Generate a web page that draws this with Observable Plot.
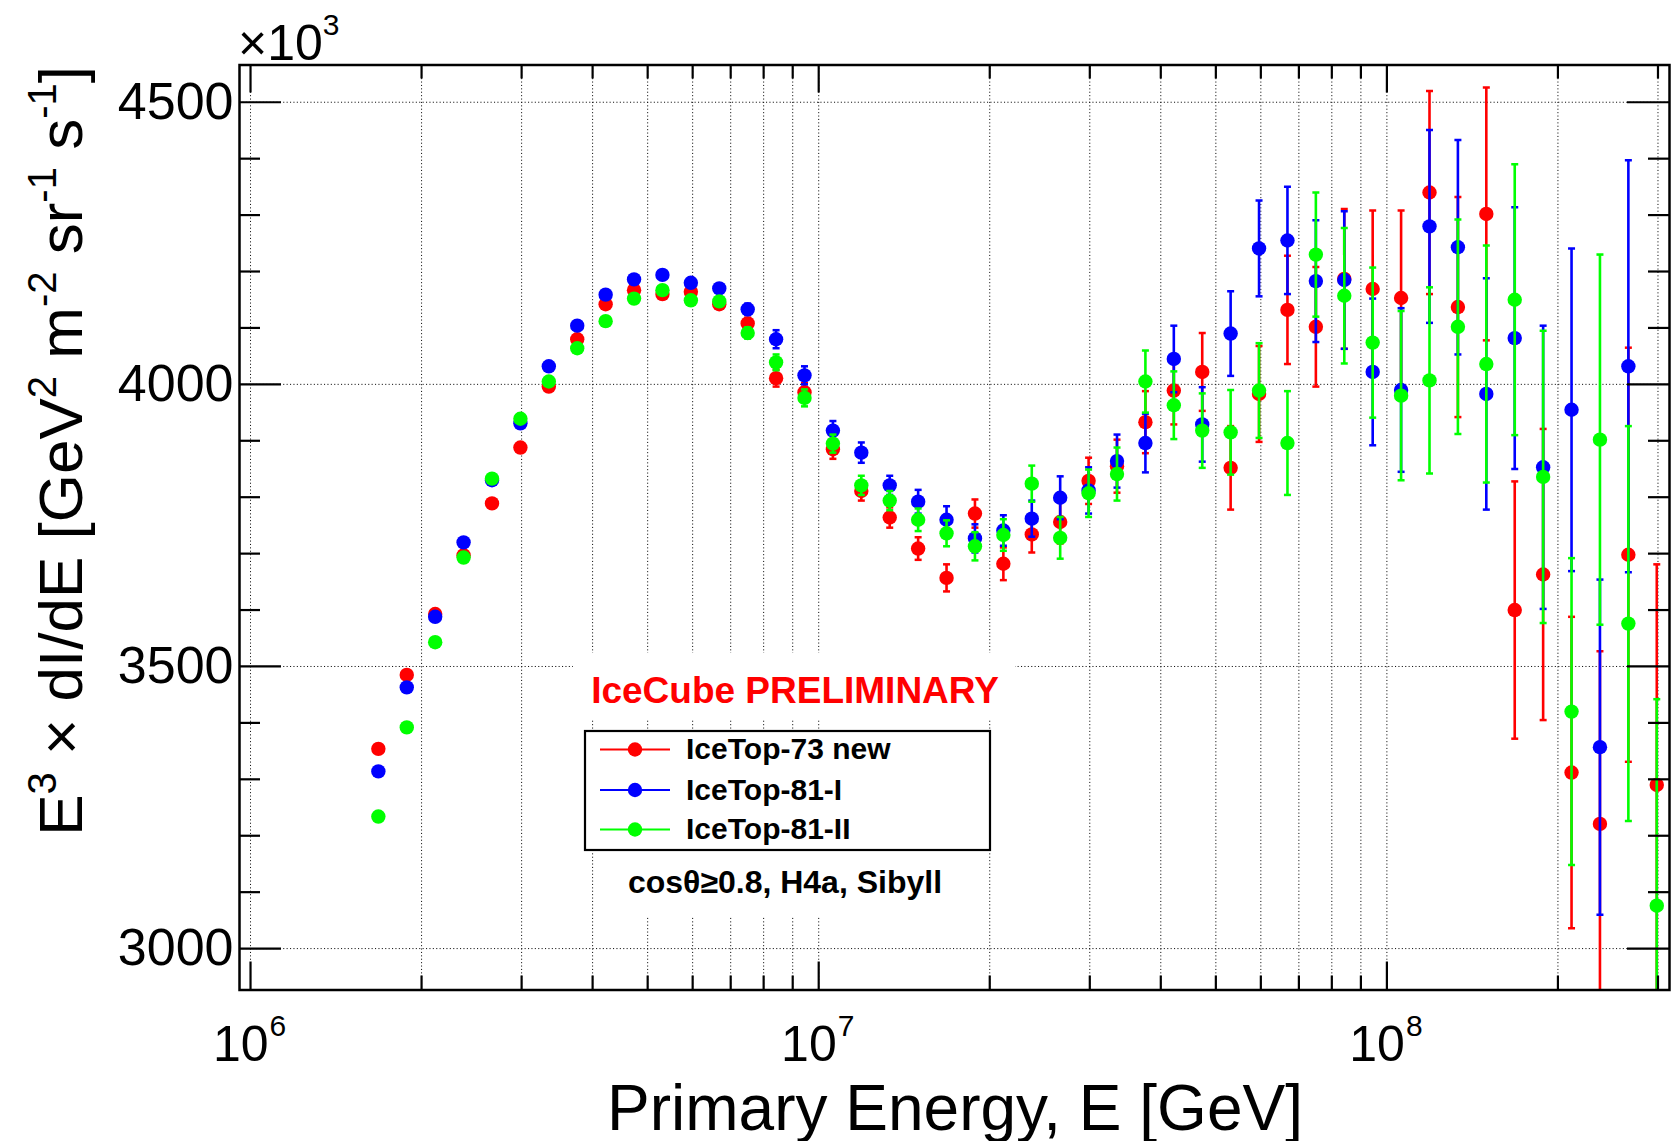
<!DOCTYPE html>
<html>
<head>
<meta charset="utf-8">
<script src="https://cdn.jsdelivr.net/npm/d3@7"></script>
<script src="https://cdn.jsdelivr.net/npm/@observablehq/plot@0.6"></script>
<style>
html, body { margin: 0; padding: 0; background: #fff; }
#chart { width: 1675px; height: 1141px; }
svg { display: block; }
</style>
</head>
<body>
<div id="chart"></div>
<script>
// ---- data (log10 of primary energy bin centres, GeV) ----
const logEnergy = [6.225, 6.275, 6.325, 6.375, 6.425, 6.475, 6.525, 6.575, 6.625, 6.675,
                   6.725, 6.775, 6.825, 6.875, 6.925, 6.975, 7.025, 7.075, 7.125, 7.175,
                   7.225, 7.275, 7.325, 7.375, 7.425, 7.475, 7.525, 7.575, 7.625, 7.675,
                   7.725, 7.775, 7.825, 7.875, 7.925, 7.975, 8.025, 8.075, 8.125, 8.175,
                   8.225, 8.275, 8.325, 8.375, 8.425, 8.475];

// E^3 dI/dE in units of 10^3 GeV^2 m^-2 sr^-1 s^-1
const it73New = [3354, 3485, 3593, 3697, 3789, 3888, 3996, 4080, 4142, 4167,
                 4160, 4164, 4142, 4108, 4011, 3986, 3885, 3811, 3764, 3709,
                 3657, 3771, 3682, 3734, 3756, 3829, 3855, 3933, 3989, 4022,
                 3852, 3983, 4132, 4102, 4187, 4169, 4153, 4340, 4137, 4302,
                 3600, 3663, 3312, 3221, 3698, 3290];
const it73NewErr = [3, 3, 3, 3, 3, 4, 4, 4, 4, 4,
                    6, 7, 8, 10, 15, 16, 17, 17, 18, 20,
                    24, 25, 29, 32, 38, 41, 47, 55, 60, 69,
                    74, 85, 96, 106, 124, 139, 155, 180, 195, 224,
                    228, 258, 276, 306, 367, 391];

const it81I = [3314, 3463, 3588, 3720, 3830, 3931, 4032, 4104, 4159, 4186,
               4194, 4180, 4170, 4133, 4080, 4016, 3918, 3879, 3821, 3792,
               3760, 3727, 3741, 3762, 3799, 3812, 3864, 3896, 4045, 3929,
               4090, 4241, 4255, 4183, 4185, 4022, 3990, 4280, 4243, 3983,
               4082, 3853, 3955, 3357, 4032];
const it81IErr = [3, 3, 3, 3, 3, 4, 4, 4, 4, 4,
                  6, 7, 8, 10, 16, 16, 17, 18, 17, 21,
                  24, 25, 27, 32, 38, 41, 47, 52, 59, 66,
                  75, 85, 95, 108, 122, 130, 145, 171, 190, 205,
                  232, 251, 286, 297, 365];

const it81II = [3234, 3392, 3543, 3693, 3833, 3939, 4005, 4064, 4112, 4152,
                4167, 4149, 4147, 4091, 4039, 3976, 3895, 3821, 3794, 3760,
                3736, 3713, 3733, 3824, 3728, 3807, 3841, 4005, 3963, 3918,
                3915, 3989, 3896, 4230, 4157, 4074, 3980, 4007, 4102, 4036,
                4150, 3836, 3420, 3902, 3576, 3076];
const it81IIErr = [3, 3, 3, 3, 3, 4, 4, 4, 4, 4,
                   6, 7, 8, 10, 14, 15, 16, 17, 17, 20,
                   23, 25, 28, 32, 37, 42, 47, 55, 60, 66,
                   75, 84, 92, 110, 120, 133, 150, 165, 190, 210,
                   240, 259, 272, 328, 350, 366];

const seriesNames = ["IceTop-73 new", "IceTop-81-I", "IceTop-81-II"];
const seriesColors = ["#ff0000", "#0000ff", "#00ff00"];

// ---- axis ticks ----
const xMajorTicks = [1e6, 1e7, 1e8];
const xMajorExponents = ["6", "7", "8"];
const xMinorTicks = [2e6, 3e6, 4e6, 5e6, 6e6, 7e6, 8e6, 9e6,
                     2e7, 3e7, 4e7, 5e7, 6e7, 7e7, 8e7, 9e7,
                     2e8, 3e8];
const yMajorTicks = [3000, 3500, 4000, 4500];
const yMinorTicks = [3100, 3200, 3300, 3400, 3600, 3700, 3800, 3900,
                     4100, 4200, 4300, 4400];

const titleText = "IceCube PRELIMINARY";
const captionText = "cosθ≥0.8, H4a, Sibyll";
const xTitle = "Primary Energy, E [GeV]";

// ---- build ----
const W = 1675, H = 1141;
const mL = 239, mR = 6, mT = 64.5, mB = 151.5;
const frameW = W - mL - mR, frameH = H - mT - mB;
const FONT = "'Liberation Sans', Arial, Helvetica, sans-serif";

function rows(vals, errs) {
  return vals.map((v, i) => ({E: Math.pow(10, logEnergy[i]), v, e: errs[i]}));
}
const series = [
  rows(it73New, it73NewErr),
  rows(it81I, it81IErr),
  rows(it81II, it81IIErr)
];

const capSymbol = {draw(ctx) { ctx.moveTo(-3.5, 0); ctx.lineTo(3.5, 0); }};

const dataMarks = [];
series.forEach((data, k) => {
  const c = seriesColors[k];
  dataMarks.push(
    Plot.ruleX(data, {x: "E", y1: d => d.v - d.e, y2: d => d.v + d.e, stroke: c, strokeWidth: 2.6, clip: true}),
    Plot.dot(data, {x: "E", y: d => d.v + d.e, symbol: capSymbol, stroke: c, strokeWidth: 2.5, fill: "none", clip: true}),
    Plot.dot(data, {x: "E", y: d => d.v - d.e, symbol: capSymbol, stroke: c, strokeWidth: 2.5, fill: "none", clip: true}),
    Plot.dot(data, {x: "E", y: "v", r: 7.2, fill: c, stroke: "none", clip: true})
  );
});

const grid = {stroke: "#111", strokeWidth: 1, strokeDasharray: "1.1,2.3"};

const plot = Plot.plot({
  width: W, height: H,
  marginLeft: mL, marginRight: mR, marginTop: mT, marginBottom: mB,
  style: {fontFamily: FONT, background: "#fff", color: "#000", overflow: "visible"},
  x: {type: "log", domain: [Math.pow(10, 5.9806), Math.pow(10, 8.4974)], axis: null},
  y: {domain: [2926.6, 4566], axis: null},
  marks: [
    Plot.ruleX(xMajorTicks.concat(xMinorTicks), grid),
    Plot.ruleY(yMajorTicks, grid),
    ...dataMarks,
    Plot.frame({stroke: "#000", strokeWidth: 2.5}),
    // bottom ticks
    Plot.ruleX(xMajorTicks, {stroke: "#000", strokeWidth: 2.2, insetTop: frameH - 28}),
    Plot.ruleX(xMinorTicks, {stroke: "#000", strokeWidth: 2.2, insetTop: frameH - 14}),
    // top ticks
    Plot.ruleX(xMajorTicks, {stroke: "#000", strokeWidth: 2.2, insetBottom: frameH - 28}),
    Plot.ruleX(xMinorTicks, {stroke: "#000", strokeWidth: 2.2, insetBottom: frameH - 14}),
    // left ticks
    Plot.ruleY(yMajorTicks, {stroke: "#000", strokeWidth: 2.2, insetRight: frameW - 42}),
    Plot.ruleY(yMinorTicks, {stroke: "#000", strokeWidth: 2.2, insetRight: frameW - 21}),
    // right ticks
    Plot.ruleY(yMajorTicks, {stroke: "#000", strokeWidth: 2.2, insetLeft: frameW - 42}),
    Plot.ruleY(yMinorTicks, {stroke: "#000", strokeWidth: 2.2, insetLeft: frameW - 21}),
    // tick labels
    Plot.text(yMajorTicks, {y: d => d, text: d => String(d), frameAnchor: "left", textAnchor: "end",
      dx: -6, fontSize: 52, fill: "#000"}),
    Plot.text(xMajorTicks, {x: d => d, text: () => "10", frameAnchor: "bottom", textAnchor: "end",
      lineAnchor: "bottom", dx: 18, dy: 71, fontSize: 50, fill: "#000"}),
    Plot.text(xMajorTicks, {x: d => d, text: (d, i) => xMajorExponents[i], frameAnchor: "bottom", textAnchor: "start",
      lineAnchor: "bottom", dx: 19, dy: 46, fontSize: 30, fill: "#000"})
  ]
});

document.getElementById("chart").appendChild(plot);
const svg = d3.select(plot);

// x10^3 multiplier
const mult = svg.append("text").attr("x", 238).attr("y", 60).attr("text-anchor", "start")
  .attr("font-size", 50).attr("font-family", FONT).attr("fill", "#000");
mult.append("tspan").text("×10");
mult.append("tspan").attr("font-size", 30).attr("dy", -25).text("3");

// x title
svg.append("text").attr("x", 955).attr("y", 1130).attr("text-anchor", "middle")
  .attr("font-size", 64).attr("font-family", FONT).attr("fill", "#000").text(xTitle);

// y title (rich text with superscripts)
const yt = svg.append("text").attr("transform", "translate(82,66) rotate(-90)")
  .attr("text-anchor", "end").attr("font-size", 62).attr("font-family", FONT).attr("fill", "#000");
const yParts = [["E", 0], ["3", 1], [" × dI/dE [GeV", 0], ["2", 1], [" m", 0], ["-2", 1],
                [" sr", 0], ["-1", 1], [" s", 0], ["-1", 1], ["]", 0]];
let raised = false;
yParts.forEach(([t, sup]) => {
  const ts = yt.append("tspan").text(t);
  if (sup && !raised) { ts.attr("font-size", 40).attr("dy", -26); raised = true; }
  else if (!sup && raised) { ts.attr("dy", 26); raised = false; }
  else if (sup) { ts.attr("font-size", 40); }
});

// paves (white boxes) and legend
const g = svg.append("g").attr("font-family", FONT).attr("text-anchor", "start");
g.append("rect").attr("x", 573).attr("y", 653).attr("width", 442).attr("height", 67).attr("fill", "#fff");
g.append("rect").attr("x", 605).attr("y", 851).attr("width", 360).attr("height", 66).attr("fill", "#fff");
g.append("rect").attr("x", 585).attr("y", 731).attr("width", 405).attr("height", 119)
  .attr("fill", "#fff").attr("stroke", "#000").attr("stroke-width", 2.2);
g.append("text").attr("x", 795).attr("y", 703).attr("text-anchor", "middle")
  .attr("font-size", 37).attr("font-weight", "bold").attr("fill", "#ff0000").text(titleText);
const legendY = [749.5, 790, 829.5];
seriesNames.forEach((name, k) => {
  g.append("line").attr("x1", 600).attr("x2", 670).attr("y1", legendY[k]).attr("y2", legendY[k])
    .attr("stroke", seriesColors[k]).attr("stroke-width", 2.2);
  g.append("circle").attr("cx", 635).attr("cy", legendY[k]).attr("r", 7.2).attr("fill", seriesColors[k]);
  g.append("text").attr("x", 686).attr("y", legendY[k] + 9.8).attr("text-anchor", "start").attr("font-size", 30)
    .attr("font-weight", "bold").attr("fill", "#000").text(name);
});
g.append("text").attr("x", 785).attr("y", 893).attr("text-anchor", "middle")
  .attr("font-size", 32).attr("font-weight", "bold").attr("fill", "#000").text(captionText);
</script>
</body>
</html>
